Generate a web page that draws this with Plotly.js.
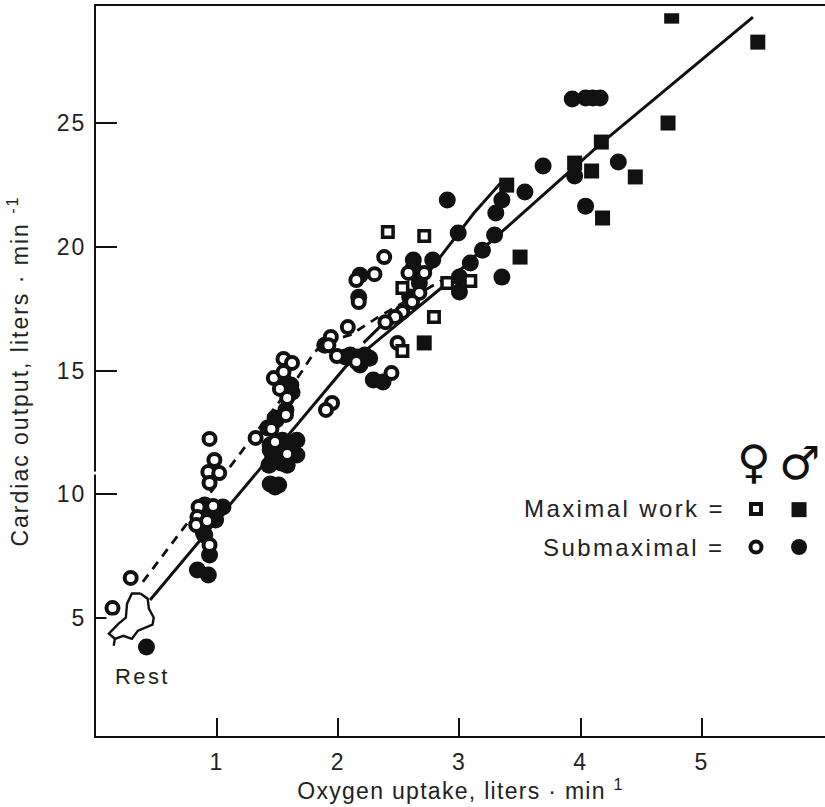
<!DOCTYPE html>
<html><head><meta charset="utf-8">
<script src="https://cdn.plot.ly/plotly-3.0.1.min.js"></script>
<style>html,body{margin:0;padding:0;background:#fff}#c{width:825px;height:807px}
.xtitle{letter-spacing:1.3px}.ytitle{letter-spacing:2px}
.xtick text,.ytick text{letter-spacing:2px}.annotation-text{letter-spacing:2.4px}</style>
</head><body><div id="c"></div>
<script>
var maleMaxX=[4.75,5.46,4.72,4.17,3.95,4.09,4.45,4.18,3.50,3.39,2.71];
var maleMaxY=[29.33,28.28,25.01,24.24,23.39,23.07,22.83,21.17,19.59,22.50,16.12];
var maleSubX=[3.93,4.04,4.10,4.16,3.69,3.95,4.31,4.04,3.54,2.90,3.35,3.30,2.99,3.29,3.19,3.09,3.00,3.00,3.35,2.62,2.78,2.62,2.18,2.17,2.10,2.16,2.22,2.29,2.37,0.42,0.84,0.93,0.94,0.89,0.90,0.98,1.05,0.93,1.44,1.51,1.48,1.63,1.57,1.53,1.43,1.44,1.49,1.57,1.57,1.61,0.90,1.01,0.99,0.90,1.44,1.54,1.66,1.66,1.46,1.58,1.55,1.62,1.48,1.42,1.89,2.59,2.67,2.06,2.26,2.18];
var maleSubY=[25.98,26.02,26.02,26.02,23.27,22.87,23.43,21.65,22.22,21.90,21.90,21.37,20.56,20.48,19.87,19.35,18.78,18.18,18.78,19.47,19.47,19.15,18.86,17.97,15.63,15.55,15.63,14.62,14.54,3.83,6.94,6.74,7.55,8.44,8.96,9.37,9.49,9.37,10.42,10.38,10.30,12.07,11.79,11.27,11.18,11.79,13.00,13.41,14.22,14.42,9.57,9.37,8.96,8.35,11.99,12.19,12.19,11.59,11.47,11.18,14.62,14.13,13.08,12.68,16.03,17.98,18.54,15.55,15.50,15.23];
var femaleSubX=[0.14,0.29,0.94,0.98,0.93,1.02,0.94,0.85,0.97,0.84,0.83,0.92,0.94,1.32,1.45,1.57,1.48,1.58,1.55,1.62,1.47,1.55,1.52,1.58,1.94,2.08,1.92,1.99,2.15,2.44,2.15,2.30,2.38,2.17,2.58,2.71,2.67,2.61,2.53,2.47,2.39,2.49,1.95,1.90];
var femaleSubY=[5.40,6.62,12.24,11.39,10.90,10.86,10.46,9.49,9.53,9.08,8.76,8.92,7.95,12.28,12.64,13.21,12.11,11.63,15.47,15.31,14.70,14.94,14.26,13.89,16.36,16.76,16.03,15.59,15.35,14.90,18.66,18.90,19.59,17.77,18.95,18.95,18.14,17.77,17.37,17.17,16.96,16.12,13.69,13.41];
var femaleMaxX=[2.41,2.71,2.79,3.09,2.90,2.53,2.53];
var femaleMaxY=[20.60,20.44,17.17,18.62,18.54,18.34,15.79];
var maleLineX=[0.45,2.06,2.25,2.86,3.19,4.18,5.42];
var maleLineY=[5.73,15.15,15.91,18.38,19.92,24.24,29.29];
var maleMaxLineX=[2.21,2.51,2.76,2.99,3.12,3.34];
var maleMaxLineY=[16.12,17.57,19.07,20.56,21.37,22.58];
var femaleLineX=[0.39,1.67,1.80,1.88,2.10,2.32,2.86,3.09];
var femaleLineY=[6.46,14.74,15.71,16.12,16.44,17.13,18.66,19.35];
var restX=[0.37,0.30,0.26,0.25,0.19,0.11,0.16,0.23,0.30,0.35,0.47,0.48,0.44,0.43,0.37];
var restY=[5.99,5.99,5.58,5.01,4.77,4.37,4.16,4.28,4.16,4.49,4.73,5.01,5.38,5.78,5.99];
var restTailX=[0.16,0.15];
var restTailY=[4.16,3.88];
var keyX=[5.445,5.80];
var keyMaxY=[9.41,9.38];
var keySubY=[7.87,7.87];
var xTicks=[1,2,3,4,5];
var yTicks=[5,10,15,20,25];
var ink='#111';
var font={family:'"Liberation Sans",Arial,sans-serif',size:23,color:'#222'};
function line(x,y,w,dash){return {x:x,y:y,mode:'lines',line:{color:ink,width:w,dash:dash||'solid'},hoverinfo:'skip'};}
function filled(x,y,sym,s){return {x:x,y:y,mode:'markers',marker:{symbol:sym,size:s,color:ink,line:{width:0}},hoverinfo:'skip'};}
function open(x,y,sym,s,w){return {x:x,y:y,mode:'markers',marker:{symbol:sym,size:s,color:'#fff',line:{width:w,color:ink}},hoverinfo:'skip'};}
var data=[
 line(femaleLineX,femaleLineY,2.8,'9px,7px'),
 line(maleLineX,maleLineY,3),
 line(maleMaxLineX,maleMaxLineY,3),
 line(restX,restY,2.4),
 line(restTailX,restTailY,2.4),
 filled(maleSubX,maleSubY,'circle',17),
 filled(maleMaxX,maleMaxY,'square',15),
 open(femaleSubX,femaleSubY,'circle',12,4),
 open(femaleMaxX,femaleMaxY,'square',10.5,3.5),
 open([keyX[0]],[keyMaxY[0]],'square',10,4),
 filled([keyX[1]],[keyMaxY[1]],'square',15),
 open([keyX[0]],[keySubY[0]],'circle',11,4),
 filled([keyX[1]],[keySubY[1]],'circle',16)
];
var layout={
 width:825,height:807,showlegend:false,paper_bgcolor:'#fff',plot_bgcolor:'#fff',font:font,
 margin:{l:96,r:0,t:6,b:71},
 xaxis:{range:[0.004,6.014],tickmode:'array',tickvals:xTicks,ticks:'inside',ticklen:18,tickwidth:2,tickcolor:ink,showgrid:false,zeroline:false,showline:true,linecolor:ink,linewidth:2,mirror:true,ticklabelstandoff:4,title:{text:'Oxygen uptake, liters · min <sup>1</sup>',font:{size:23},standoff:6},tickfont:{size:23}},
 yaxis:{range:[0.23,29.74],tickmode:'array',tickvals:yTicks,ticks:'inside',ticklen:21,tickwidth:2,tickcolor:ink,showgrid:false,zeroline:false,showline:true,linecolor:ink,linewidth:2,ticklabelstandoff:3,title:{text:'Cardiac output, liters · min <sup>-1</sup>',font:{size:23},standoff:22},tickfont:{size:23}},
 shapes:[
  {type:'rect',layer:'above',xref:'x',yref:'y',x0:0.09,x1:0.205,y0:4.9,y1:5.1,fillcolor:'#fff',line:{width:0}},
  {type:'rect',layer:'above',xref:'x',yref:'y',x0:4.6,x1:4.9,y0:29.45,y1:29.68,fillcolor:'#fff',line:{width:0}},
  {type:'rect',layer:'above',xref:'paper',yref:'y',x0:-0.006,x1:0.006,y0:10.80,y1:10.92,fillcolor:'#fff',line:{width:0}}
 ],
 annotations:[
  {text:'Rest',xref:'x',yref:'y',x:0.39,y:2.65,showarrow:false,font:{size:22}},
  {text:'Maximal work =',xref:'x',yref:'y',x:5.21,y:9.41,xanchor:'right',showarrow:false,font:{size:24}},
  {text:'Submaximal =',xref:'x',yref:'y',x:5.21,y:7.87,xanchor:'right',showarrow:false,font:{size:24}},
  {text:'♀',xref:'x',yref:'y',x:5.44,y:11.3,showarrow:false,font:{size:46,family:'"DejaVu Sans"',color:ink}},
  {text:'♂',xref:'x',yref:'y',x:5.82,y:11.25,showarrow:false,font:{size:46,family:'"DejaVu Sans"',color:ink}}
 ]
};
Plotly.newPlot('c',data,layout,{displayModeBar:false,staticPlot:true});
</script></body></html>
